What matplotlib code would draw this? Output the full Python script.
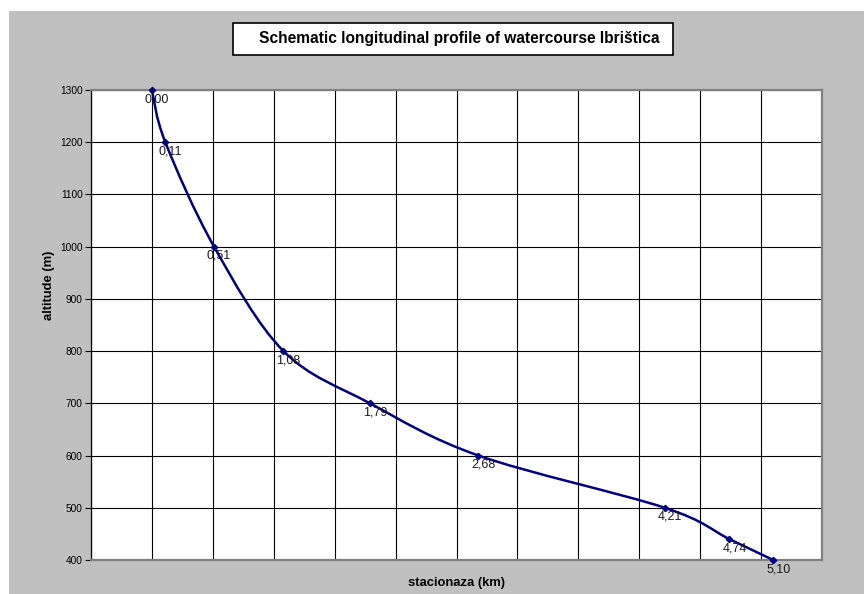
import matplotlib
matplotlib.use('Agg')
import matplotlib.pyplot as plt
from matplotlib.path import Path
from matplotlib.patches import PathPatch, Rectangle

plt.rcParams['font.family'] = ['Liberation Sans', 'DejaVu Sans']

# stationing (km) and altitude (m) of the profile points
km = [0.00, 0.11, 0.51, 1.08, 1.79, 2.68, 4.21, 4.74, 5.10]
alt = [1300, 1200, 1000, 800, 700, 600, 500, 440, 400]
point_labels = ['0,00', '0,11', '0,51', '1,08', '1,79', '2,68', '4,21', '4,74', '5,10']

W, H = 864, 594
fig = plt.figure(figsize=(W / 100, H / 100), dpi=100, facecolor='white')

# grey chart area (white strip on top and left like the original)
fig.patches.append(Rectangle((9 / W, 0), 1 - 9 / W, (H - 11) / H,
                             transform=fig.transFigure, facecolor='#c0c0c0',
                             edgecolor='none', zorder=-10))

# title box
bx0, bx1, by0, by1 = 233, 673, 23, 55
fig.patches.append(Rectangle((bx0 / W, 1 - by1 / H), (bx1 - bx0) / W, (by1 - by0) / H,
                             transform=fig.transFigure, facecolor='white',
                             edgecolor='black', lw=1.2, zorder=1))
fig.text(459 / W, 1 - 39 / H, 'Schematic longitudinal profile of watercourse Ibrištica',
         ha='center', va='center', fontsize=11.2, fontweight='bold', zorder=2)

left, right, top, bottom = 91, 822, 90, 560
ax = fig.add_axes([left / W, 1 - bottom / H, (right - left) / W, (bottom - top) / H])
ax.set_facecolor('white')
ax.set_xlim(-0.5, 5.5)
ax.set_ylim(400, 1300)
ax.set_xticks([-0.5 + 0.5 * i for i in range(13)])
ax.set_yticks(range(400, 1301, 100))
ax.tick_params(axis='x', length=0, labelbottom=False)
ax.tick_params(axis='y', length=4, width=0.8, pad=2, labelsize=7.3, color='black')
ax.grid(True, color='black', lw=0.8)
ax.set_axisbelow(True)
for s in ['top', 'right', 'bottom']:
    ax.spines[s].set_color('#808080')
    ax.spines[s].set_linewidth(1.6)
ax.spines['left'].set_color('black')
ax.spines['left'].set_linewidth(0.9)

# smoothed line (Excel-like Bezier smoothing through the points)
pts = list(zip(km, alt))
verts = [pts[0]]
codes = [Path.MOVETO]
n = len(pts)
for i in range(n - 1):
    p0 = pts[i - 1] if i > 0 else pts[i]
    p1 = pts[i]
    p2 = pts[i + 1]
    p3 = pts[i + 2] if i + 2 < n else pts[i + 1]
    c1 = (p1[0] + (p2[0] - p0[0]) / 6, p1[1] + (p2[1] - p0[1]) / 6)
    c2 = (p2[0] - (p3[0] - p1[0]) / 6, p2[1] - (p3[1] - p1[1]) / 6)
    verts += [c1, c2, p2]
    codes += [Path.CURVE4] * 3
ax.add_patch(PathPatch(Path(verts, codes), facecolor='none', edgecolor='#000080',
                       lw=1.8, zorder=3, clip_on=False))
ax.plot(km, alt, ls='none', marker='D', ms=3.2, color='#000080', zorder=4, clip_on=False)

for x, y, t in zip(km, alt, point_labels):
    ax.annotate(t, (x, y), xytext=(5, -9), textcoords='offset pixels',
                ha='center', va='center', fontsize=9, color='#1a1a1a',
                zorder=5, annotation_clip=False)

ax.set_ylabel('altitude (m)', fontsize=9.4, fontweight='bold')
ax.yaxis.set_label_coords((55 - left) / (right - left), (bottom - 285) / (bottom - top))
ax.set_xlabel('stacionaza (km)', fontsize=9.4, fontweight='bold')
ax.xaxis.set_label_coords((457 - left) / (right - left), -(577 - bottom) / (bottom - top))

fig.savefig('out.png', dpi=100)
